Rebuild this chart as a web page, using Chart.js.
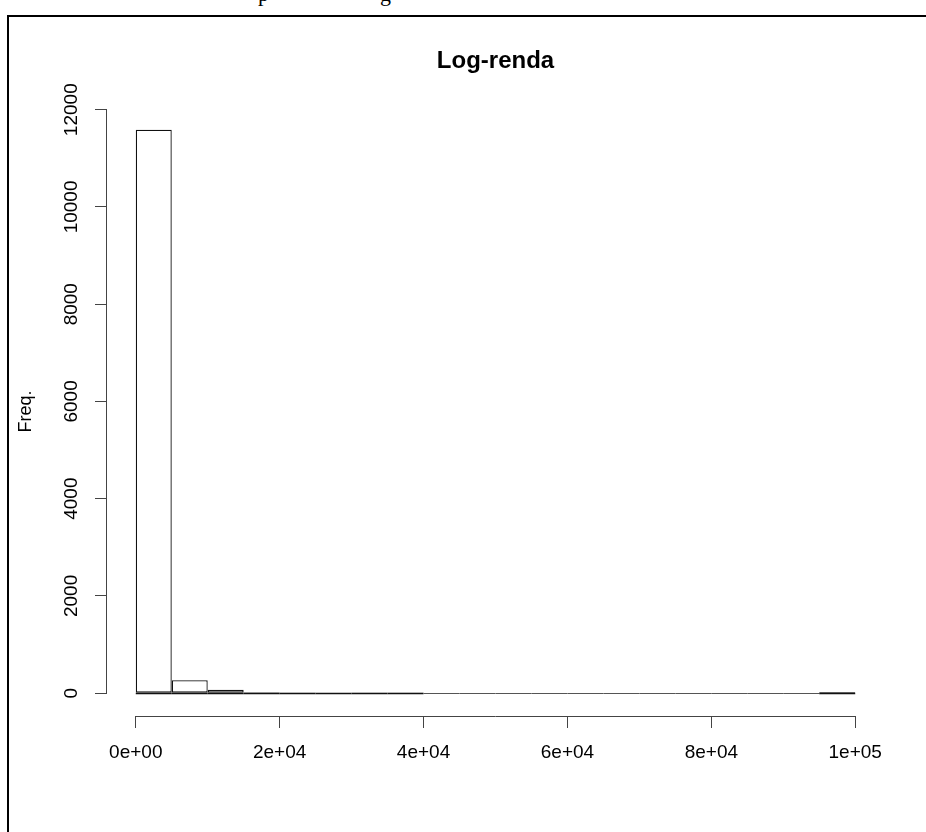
<!DOCTYPE html>
<html><head><meta charset="utf-8">
<script src="https://cdn.jsdelivr.net/npm/chart.js@4.4.0/dist/chart.umd.min.js"></script>
<style>
html,body{margin:0;padding:0;background:#fff;overflow:hidden;}
#wrap{position:relative;width:926px;height:832px;overflow:hidden;background:#fff;}
#frame{position:absolute;left:7px;top:15px;width:1000px;height:1000px;border:2px solid #000;box-sizing:border-box;}
canvas{position:absolute;left:0;top:0;}
.frag{position:absolute;font-family:'Liberation Serif',serif;font-size:22px;line-height:22px;color:#000;}
</style></head><body>
<div id="wrap">
<div id="frame"></div>
<span class="frag" style="left:258px;top:-17px">p</span>
<span class="frag" style="left:380px;top:-17px">g</span>
<canvas id="c" width="926" height="832"></canvas>
</div>
<script>
const chartTitle = 'Log-renda';
const yAxisTitle = 'Freq.';
const binStart = [0, 5000, 10000, 15000, 20000, 25000, 30000, 35000, 40000, 45000,
                  50000, 55000, 60000, 65000, 70000, 75000, 80000, 85000, 90000, 95000];
const binWidth = 5000;
const counts = [11590, 265, 70, 20, 12, 8, 5, 4, 0, 0,
                0, 0, 0, 0, 0, 0, 0, 0, 0, 25];
const xTickValues = [0, 20000, 40000, 60000, 80000, 100000];
const xTickLabels = ['0e+00', '2e+04', '4e+04', '6e+04', '8e+04', '1e+05'];
const yTickValues = [0, 2000, 4000, 6000, 8000, 10000, 12000];
const yTickLabels = ['0', '2000', '4000', '6000', '8000', '10000', '12000'];

const FONT = "'Liberation Sans', Arial, Helvetica, sans-serif";
const AXIS_COLOR = '#444';
const BAR_EDGE = '#111';

const rAxes = {
  id: 'rAxes',
  afterDatasetsDraw(chart) {
    const {ctx, scales: {x, y}} = chart;
    ctx.save();
    ctx.lineWidth = 1;
    const y0 = Math.round(y.getPixelForValue(0)) + 0.5;
    counts.forEach((c, i) => {
      ctx.strokeStyle = c === 0 ? '#555' : BAR_EDGE;
      ctx.lineWidth = c === 0 ? 1 : 1.5;
      ctx.beginPath();
      ctx.moveTo(x.getPixelForValue(binStart[i]), y0);
      ctx.lineTo(x.getPixelForValue(binStart[i] + binWidth), y0);
      ctx.stroke();
    });
    ctx.restore();
  },
  afterDraw(chart) {
    const {ctx, scales: {x, y}} = chart;
    ctx.save();
    ctx.strokeStyle = AXIS_COLOR;
    ctx.lineWidth = 1;
    const xa = Math.round(x.top) + 0.5;
    ctx.beginPath();
    ctx.moveTo(x.getPixelForValue(xTickValues[0]), xa);
    ctx.lineTo(x.getPixelForValue(xTickValues[xTickValues.length - 1]), xa);
    ctx.stroke();
    const ya = Math.round(y.right) - 0.5;
    ctx.beginPath();
    ctx.moveTo(ya, y.getPixelForValue(yTickValues[0]));
    ctx.lineTo(ya, y.getPixelForValue(yTickValues[yTickValues.length - 1]));
    ctx.stroke();
    ctx.restore();
  }
};

new Chart(document.getElementById('c'), {
  type: 'bar',
  data: {
    datasets: [{
      data: binStart.map((s, i) => ({x: s + binWidth / 2, y: counts[i]})),
      backgroundColor: '#fff',
      borderColor: BAR_EDGE,
      borderWidth: 1.3,
      borderSkipped: false,
      barPercentage: 1,
      categoryPercentage: 1,
      inflateAmount: 0
    }]
  },
  options: {
    responsive: false,
    animation: false,
    devicePixelRatio: 1,
    layout: {padding: {left: 0, right: 42, top: 47, bottom: 56}},
    plugins: {
      legend: {display: false},
      tooltip: {enabled: false},
      title: {
        display: true,
        text: chartTitle,
        fullSize: false,
        color: '#000',
        font: {family: FONT, size: 24, weight: 'bold'},
        padding: {top: 0, bottom: 31}
      }
    },
    scales: {
      x: {
        type: 'linear',
        offset: false,
        min: -4000,
        max: 104000,
        afterBuildTicks: s => { s.ticks = xTickValues.map(v => ({value: v})); },
        afterFit: s => { s.height = 60; },
        border: {display: false},
        grid: {offset: false, drawOnChartArea: false, drawTicks: true, tickLength: 12, color: AXIS_COLOR, tickColor: AXIS_COLOR},
        ticks: {
          autoSkip: false,
          maxRotation: 0,
          minRotation: 0,
          padding: 13,
          color: '#000',
          font: {family: FONT, size: 19},
          callback: (v, i) => xTickLabels[i]
        }
      },
      y: {
        type: 'linear',
        min: -470,
        max: 12060,
        afterBuildTicks: s => { s.ticks = yTickValues.map(v => ({value: v})); },
        afterFit: s => { s.width = 107; },
        border: {display: false},
        grid: {drawOnChartArea: false, drawTicks: true, tickLength: 12, color: AXIS_COLOR, tickColor: AXIS_COLOR},
        title: {
          display: true,
          text: yAxisTitle,
          color: '#000',
          font: {family: FONT, size: 18},
          padding: {top: 15, bottom: 0}
        },
        ticks: {
          autoSkip: false,
          minRotation: 90,
          maxRotation: 90,
          crossAlign: 'center',
          padding: -3,
          color: '#000',
          font: {family: FONT, size: 19},
          callback: (v, i) => yTickLabels[i]
        }
      }
    }
  },
  plugins: [rAxes]
});
</script>
</body></html>
